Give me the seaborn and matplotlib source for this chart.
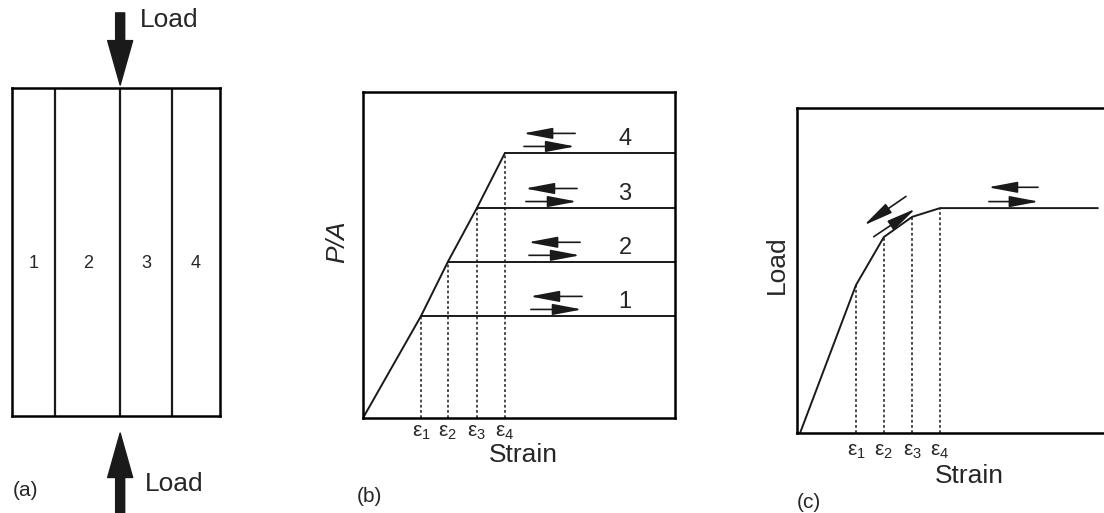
import matplotlib
matplotlib.use("Agg")
import matplotlib.pyplot as plt
import pandas as pd
import seaborn as sns

W, H = 1104, 513

# (a) four parallel columns under load
strip_widths = [0.83, 1.25, 1.0, 0.92]
strip_labels = ["1", "2", "3", "4"]

# (b) P/A vs strain, yield of each column at its own strain
eps_b = [1.86, 2.72, 3.65, 4.55]
pa_b = [3.13, 4.79, 6.44, 8.13]
level_labels = ["1", "2", "3", "4"]
arrow_x_b = [5.35, 5.29, 5.19, 5.13]

# (c) load vs strain of the whole section
strain_c = [0.1, 1.92, 2.83, 3.75, 4.66, 9.8]
load_c = [0.0, 4.55, 6.03, 6.65, 6.92, 6.92]

eps_labels = ["ε$_1$", "ε$_2$", "ε$_3$", "ε$_4$"]

sns.set_theme(style="white", rc={"axes.edgecolor": "black", "axes.linewidth": 1.8})
plt.rcParams["font.family"] = ["Liberation Sans", "DejaVu Sans"]
plt.rcParams["mathtext.fontset"] = "custom"
plt.rcParams["mathtext.rm"] = "Liberation Sans"
plt.rcParams["mathtext.it"] = "Liberation Sans"


def fx(px):
    return px / W


def fy(py):
    return 1 - py / H


def harrow(ax, x0, x1, y0, y1):
    ax.annotate("", xy=(x1, y1), xytext=(x0, y0), annotation_clip=False,
                arrowprops=dict(arrowstyle="-|>,head_length=1.8,head_width=0.34",
                                color="k", lw=1.2, shrinkA=0, shrinkB=0,
                                mutation_scale=10))


def bigarrow(ax, x, y0, y1):
    ax.annotate("", xy=(x, y1), xytext=(x, y0), annotation_clip=False,
                arrowprops=dict(arrowstyle="simple,head_length=3.2,head_width=1.8,tail_width=0.65",
                                fc="k", ec="k", shrinkA=0, shrinkB=0,
                                mutation_scale=10))


fig = plt.figure(figsize=(W / 100, H / 100), dpi=100)

# ---- (a)
ax_a = fig.add_axes([fx(12), fy(416), 208 / W, 328 / H])
edges = [0]
for w in strip_widths:
    edges.append(edges[-1] + w)
ax_a.set_xlim(0, edges[-1])
ax_a.set_ylim(0, 1)
ax_a.vlines(edges[1:-1], 0, 1, colors="k", lw=1.6)
for i, lab in enumerate(strip_labels):
    ax_a.text((edges[i] + edges[i + 1]) / 2, 0.466, lab, ha="center", va="center", fontsize=13)
bigarrow(ax_a, edges[2], 1.229, 1.009)
bigarrow(ax_a, edges[2], -0.32, -0.052)
fig.text(fx(140), fy(20), "Load", ha="left", va="center", fontsize=19)
fig.text(fx(145), fy(484), "Load", ha="left", va="center", fontsize=19)

# ---- (b)
ax_b = fig.add_axes([fx(363), fy(418), 312 / W, 326 / H])
ax_b.set_xlim(0, 10)
ax_b.set_ylim(0, 10)
sns.lineplot(x=[0] + eps_b, y=[0] + pa_b, ax=ax_b, color="k", lw=1.4,
             sort=False, estimator=None)
plateaus = pd.DataFrame({
    "strain": [v for e in eps_b for v in (e, 10)],
    "pa": [p for p in pa_b for _ in (0, 1)],
    "level": [lab for lab in level_labels for _ in (0, 1)],
})
sns.lineplot(data=plateaus, x="strain", y="pa", units="level", ax=ax_b,
             color="k", lw=1.4, sort=False, estimator=None)
ax_b.vlines(eps_b, 0, pa_b, colors="k", linestyles=(0, (1.8, 1.6)), lw=1.1)
for x0, p, lab in zip(arrow_x_b, pa_b, level_labels):
    harrow(ax_b, x0 + 1.67, x0, p + 0.6, p + 0.6)
    harrow(ax_b, x0 + 0.03, x0 + 1.67, p + 0.2, p + 0.2)
    ax_b.text(8.4, p + 0.42, lab, ha="center", va="center", fontsize=17)
for e, lab in zip(eps_b, eps_labels):
    ax_b.text(e, -0.15, lab, ha="center", va="top", fontsize=15)
ax_b.text(5.13, -1.12, "Strain", ha="center", va="center", fontsize=19)
fig.text(fx(337), fy(242), "P/A", rotation=90, style="italic", ha="center",
         va="center", fontsize=19)

# ---- (c)
ax_c = fig.add_axes([fx(797), fy(433), (W - 797) / W, 325 / H])
ax_c.set_xlim(0, 10)
ax_c.set_ylim(0, 10)
ax_c.spines["right"].set_visible(False)
sns.lineplot(x=strain_c, y=load_c, ax=ax_c, color="k", lw=1.4,
             sort=False, estimator=None)
ax_c.vlines(strain_c[1:5], 0, load_c[1:5], colors="k", linestyles=(0, (1.8, 1.6)), lw=1.1)
harrow(ax_c, 7.85, 6.22, 7.56, 7.56)
harrow(ax_c, 6.25, 7.88, 7.12, 7.12)
harrow(ax_c, 3.55, 2.18, 7.28, 6.39)
harrow(ax_c, 2.5, 3.86, 6.04, 6.9)
for e, lab in zip(strain_c[1:5], eps_labels):
    ax_c.text(e, -0.27, lab, ha="center", va="top", fontsize=15)
ax_c.text(5.63, -1.32, "Strain", ha="center", va="center", fontsize=19)
fig.text(fx(777), fy(265), "Load", rotation=90, ha="center", va="center", fontsize=19)

for ax in (ax_a, ax_b, ax_c):
    ax.set_xticks([])
    ax.set_yticks([])
    ax.set_xlabel("")
    ax.set_ylabel("")
    if ax.get_legend():
        ax.get_legend().remove()

fig.text(fx(13), fy(491), "(a)", ha="left", va="center", fontsize=15)
fig.text(fx(357), fy(497), "(b)", ha="left", va="center", fontsize=15)
fig.text(fx(797), fy(502), "(c)", ha="left", va="center", fontsize=15)

fig.savefig("out.png", dpi=100)
